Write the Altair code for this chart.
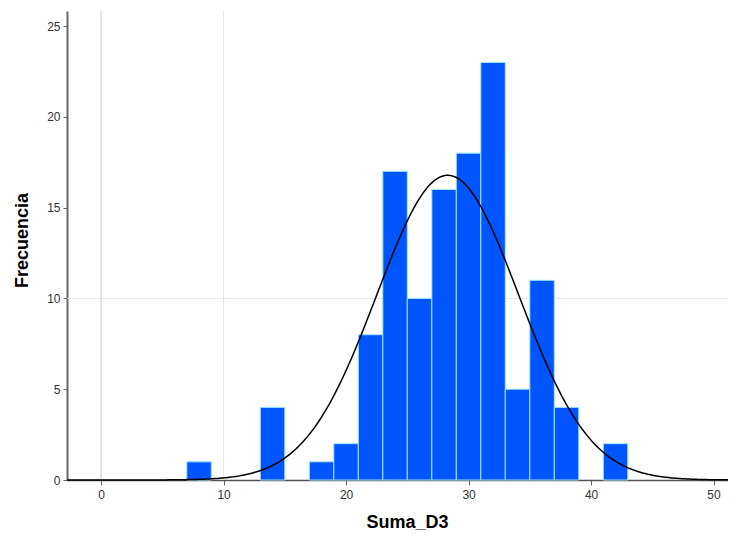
import altair as alt
import numpy as np
import pandas as pd

# Histogram bins (width 2) and counts
bin_start = [7, 13, 17, 19, 21, 23, 25, 27, 29, 31, 33, 35, 37, 41]
bin_end = [9, 15, 19, 21, 23, 25, 27, 29, 31, 33, 35, 37, 39, 43]
counts = [1, 4, 1, 2, 8, 17, 10, 16, 18, 23, 5, 11, 4, 2]

# Normal curve parameters (fitted curve shown in the picture)
curve_mean = 28.3
curve_sd = 5.8
bin_width = 2
n_total = sum(counts)

x_ticks = [0, 10, 20, 30, 40, 50]
y_ticks = [0, 5, 10, 15, 20, 25]

X_DOMAIN = [-2.78, 51.18]
Y_DOMAIN = [0, 25.83]

bars_df = pd.DataFrame({"start": bin_start, "end": bin_end, "count": counts})
xs = np.linspace(X_DOMAIN[0], X_DOMAIN[1], 400)
ys = n_total * bin_width / (curve_sd * np.sqrt(2 * np.pi)) * np.exp(-0.5 * ((xs - curve_mean) / curve_sd) ** 2)
curve_df = pd.DataFrame({"x": xs, "y": ys})

font = "Liberation Sans"

x_scale = alt.Scale(domain=X_DOMAIN, nice=False, zero=False)
y_scale = alt.Scale(domain=Y_DOMAIN, nice=False)

x_axis = alt.Axis(
    values=x_ticks, grid=False, title="Suma_D3", titleFont=font, titleFontSize=18,
    titleFontWeight="bold", titleColor="#000", titleX=340, titleY=47,
    titleBaseline="alphabetic", titleAlign="center",
    labelFont=font, labelFontSize=12, labelColor="#333", labelPadding=4,
    tickSize=5, tickColor="#666", domainColor="#555", domainWidth=1.5,
)
y_axis = alt.Axis(
    values=y_ticks, grid=False, title="Frecuencia", titleFont=font, titleFontSize=18,
    titleFontWeight="bold", titleColor="#000", titleAngle=270, titleX=-45, titleY=229,
    titleBaseline="middle", titleAlign="center",
    labelFont=font, labelFontSize=12, labelColor="#333", labelPadding=3,
    tickSize=4, tickColor="#666", domainColor="#666", domainWidth=2,
)

grid_x0 = alt.Chart(pd.DataFrame({"v": [0]})).mark_rule(color="#c8c8c8", strokeWidth=1).encode(
    x=alt.X("v:Q", scale=x_scale, axis=x_axis)
)
grid_x10 = alt.Chart(pd.DataFrame({"v": [10]})).mark_rule(color="#e6e6e6", strokeWidth=1).encode(
    x=alt.X("v:Q", scale=x_scale)
)
grid_y10 = alt.Chart(pd.DataFrame({"v": [10]})).mark_rule(color="#e6e6e6", strokeWidth=1).encode(
    y=alt.Y("v:Q", scale=y_scale, axis=y_axis)
)

bars = alt.Chart(bars_df).mark_rect(color="#0055ff", stroke="#9fe6ff", strokeWidth=1).encode(
    x=alt.X("start:Q", scale=x_scale),
    x2="end:Q",
    y=alt.Y("count:Q", scale=y_scale),
    y2=alt.datum(0),
)

curve = alt.Chart(curve_df).mark_line(color="#000", strokeWidth=1.5).encode(
    x=alt.X("x:Q", scale=x_scale),
    y=alt.Y("y:Q", scale=y_scale),
)

chart = alt.layer(grid_x0, grid_x10, grid_y10, bars, curve).properties(
    width=661, height=469,
    background="white",
    autosize=alt.AutoSizeParams(type="none"),
    padding={"left": 59, "top": 3, "right": 0, "bottom": 50},
).configure_view(stroke="transparent", strokeWidth=0)

chart.save("out.html", embed_options={"renderer": "svg", "actions": False})
